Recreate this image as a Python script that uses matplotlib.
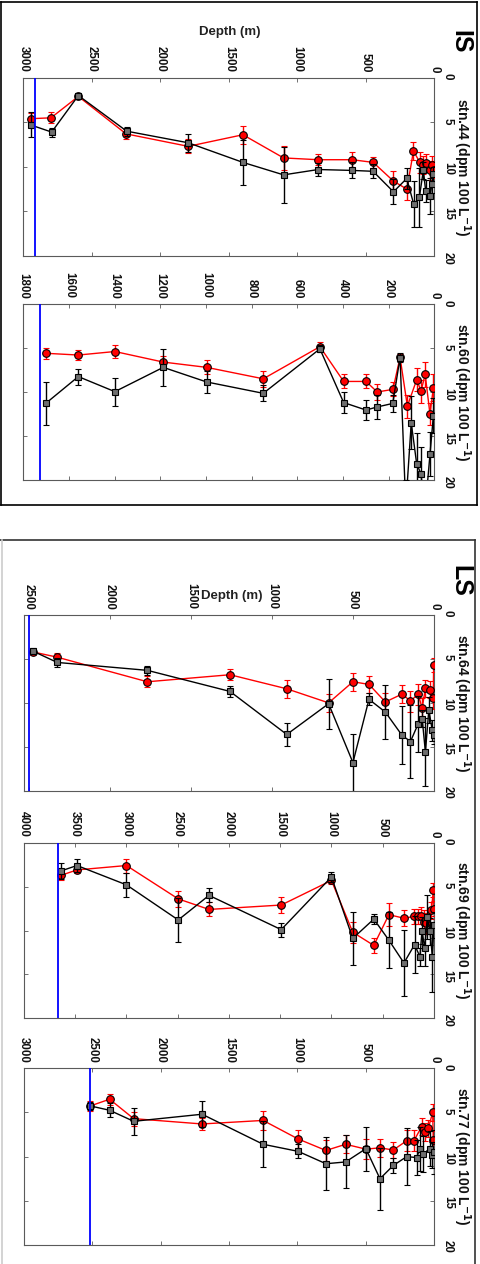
import numpy as np
import matplotlib
matplotlib.use("Agg")
from matplotlib import pyplot as plt
from matplotlib.lines import Line2D

plt.rcParams['font.family'] = ['Liberation Sans', 'DejaVu Sans']

# station 44 (IS)
st44_red_depth = [2946, 2798, 2598, 2250, 1796, 1397, 1100, 847, 599, 446, 298, 200, 152, 106, 80, 58, 32, 18, 4]
st44_red = [4.6, 4.5, 2.1, 6.3, 7.7, 6.4, 9.0, 9.2, 9.2, 9.5, 11.6, 12.5, 8.2, 9.5, 9.8, 9.6, 10.4, 9.8, 10.3]
st44_red_err = [0.6, 0.6, 0.3, 0.6, 0.8, 1.0, 1.3, 0.6, 0.9, 0.6, 1.1, 1.2, 1.0, 1.2, 1.0, 1.0, 1.1, 1.0, 1.0]
st44_gray_depth = [2946, 2793, 2598, 2245, 1796, 1397, 1100, 847, 599, 447, 298, 201, 150, 109, 80, 63, 31, 17, 7]
st44_gray = [5.3, 6.1, 2.0, 6.0, 7.3, 9.5, 10.9, 10.3, 10.4, 10.5, 12.8, 11.3, 14.2, 13.4, 10.4, 12.7, 13.3, 11.9, 10.8]
st44_gray_err = [1.4, 0.5, 0.3, 0.5, 1.0, 2.5, 3.1, 0.7, 0.9, 0.8, 1.4, 1.2, 2.6, 3.3, 1.0, 1.2, 2.0, 1.0, 0.8]

# station 60 (IS)
st60_red_depth = [1702, 1559, 1399, 1187, 997, 749, 501, 397, 299, 250, 181, 150, 118, 77, 58, 40, 19, 4]
st60_red = [5.6, 5.8, 5.4, 6.6, 7.2, 8.5, 4.85, 8.8, 8.8, 10.0, 9.7, 6.06, 11.6, 8.6, 9.9, 8.0, 12.5, 9.5]
st60_red_err = [0.6, 0.6, 0.7, 0.7, 0.8, 0.9, 0.5, 0.8, 0.8, 0.9, 0.8, 0.4, 1.3, 1.3, 1.3, 1.4, 1.3, 1.5]
st60_gray_depth = [1702, 1559, 1399, 1187, 997, 749, 501, 397, 299, 250, 182, 150, 125, 101, 77, 58, 42, 19, 4]
st60_gray = [11.3, 8.25, 9.96, 7.2, 8.86, 10.15, 5.1, 11.2, 12.05, 11.7, 11.3, 6.1, 23.0, 13.5, 18.2, 19.3, 24.0, 17.1, 12.7]
st60_gray_err = [2.4, 0.9, 1.6, 2.1, 1.2, 0.9, 0.4, 1.2, 1.1, 1.4, 1.0, 0.5, 3.0, 3.0, 3.5, 3.0, 3.0, 2.5, 2.0]

# station 64 (LS)
st64_red_depth = [2475, 2324, 1768, 1258, 908, 650, 500, 401, 300, 197, 145, 98, 73, 53, 26, 5, 2]
st64_red = [4.2, 4.8, 7.6, 6.8, 8.4, 10.0, 7.6, 7.9, 9.9, 9.0, 9.8, 9.0, 10.6, 8.35, 8.5, 9.5, 5.7]
st64_red_err = [0.3, 0.5, 0.6, 0.6, 1.0, 1.0, 1.0, 1.0, 1.0, 1.0, 1.2, 1.2, 1.2, 1.0, 1.0, 1.2, 0.8]
st64_gray_depth = [2475, 2324, 1768, 1258, 908, 650, 500, 401, 300, 197, 145, 98, 73, 53, 32, 11, 1]
st64_gray = [4.1, 5.4, 6.3, 8.7, 13.6, 10.1, 16.8, 9.6, 11.05, 13.7, 14.4, 12.4, 11.8, 15.6, 10.8, 13.1, 13.7]
st64_gray_err = [0.3, 0.5, 0.5, 0.6, 1.3, 2.85, 3.3, 0.7, 3.1, 3.3, 4.2, 3.2, 1.0, 3.9, 1.5, 1.2, 1.0]

# station 69 (LS)
st69_red_depth = [3634, 3481, 2999, 2494, 2194, 1490, 1000, 792, 587, 440, 293, 196, 156, 123, 98, 75, 25, 6, 1]
st69_red = [3.7, 3.1, 2.6, 6.4, 7.6, 7.1, 4.3, 10.2, 11.7, 8.2, 8.6, 8.4, 8.4, 8.3, 9.0, 9.2, 7.7, 5.4, 7.5]
st69_red_err = [0.5, 0.4, 0.8, 0.9, 0.8, 0.9, 0.4, 1.2, 0.9, 1.3, 0.9, 0.9, 0.9, 1.0, 1.3, 1.2, 1.0, 0.8, 0.9]
st69_gray_depth = [3634, 3481, 2999, 2494, 2194, 1490, 1000, 792, 587, 440, 293, 189, 137, 117, 91, 65, 39, 16, 1]
st69_gray = [3.2, 2.6, 4.8, 8.8, 6.0, 9.9, 3.9, 10.9, 8.7, 11.1, 13.7, 11.6, 13.0, 10.0, 12.0, 8.5, 10.1, 13.0, 9.4]
st69_gray_err = [0.9, 0.7, 1.4, 2.5, 0.8, 0.8, 0.6, 3.0, 0.6, 3.2, 3.8, 3.2, 1.0, 1.5, 2.0, 2.5, 1.5, 4.0, 1.5]

# station 77 (LS)
st77_red_depth = [2514, 2373, 2197, 1697, 1251, 995, 792, 648, 500, 397, 300, 202, 149, 92, 68, 44, 12, 7]
st77_red = [4.26, 3.5, 5.7, 6.3, 5.9, 8.0, 9.3, 8.6, 9.15, 9.0, 9.25, 8.2, 8.2, 6.6, 7.2, 6.8, 5.0, 8.1]
st77_red_err = [0.6, 0.6, 0.8, 0.7, 1.1, 1.0, 1.2, 1.0, 1.1, 1.0, 0.9, 1.2, 1.2, 1.0, 1.0, 1.0, 1.0, 1.0]
st77_gray_depth = [2514, 2373, 2197, 1697, 1251, 995, 792, 648, 500, 397, 300, 202, 129, 105, 80, 35, 15, 1]
st77_gray = [4.26, 4.75, 6.0, 5.2, 8.6, 9.4, 10.8, 10.6, 9.1, 12.5, 11.0, 10.0, 10.1, 9.1, 9.7, 9.1, 9.8, 9.5]
st77_gray_err = [0.5, 0.8, 1.5, 1.5, 2.6, 0.8, 3.0, 3.0, 2.5, 3.5, 0.8, 3.2, 2.0, 2.5, 2.0, 2.0, 1.5, 2.5]

station_names = ['stn.44', 'stn.60', 'stn.64', 'stn.69', 'stn.77']
max_depths = [3000, 1800, 2530, 4000, 3000]
tick_steps = [500, 200, 500, 500, 500]
bottom_depths = [2915, 1727, 2500, 3667, 2514]

W, H = 480, 1264
fig = plt.figure(figsize=(W / 100, H / 100), dpi=100)

# axes boxes in pixels: (left, top, right, bottom)
boxes = [(23.3, 77.7, 434.3, 256),
         (23.3, 304, 434.3, 480),
         (23.8, 615, 434.0, 790.7),
         (23.8, 842.7, 434.0, 1018.3),
         (23.8, 1068.3, 434.3, 1245)]

series = [
    (st44_red_depth, st44_red, st44_red_err, st44_gray_depth, st44_gray, st44_gray_err),
    (st60_red_depth, st60_red, st60_red_err, st60_gray_depth, st60_gray, st60_gray_err),
    (st64_red_depth, st64_red, st64_red_err, st64_gray_depth, st64_gray, st64_gray_err),
    (st69_red_depth, st69_red, st69_red_err, st69_gray_depth, st69_gray, st69_gray_err),
    (st77_red_depth, st77_red, st77_red_err, st77_gray_depth, st77_gray, st77_gray_err),
]

spine_col = '#5a5a5a'

for i in range(5):
    l, t, r, b = boxes[i]
    ax = fig.add_axes([l / W, 1 - b / H, (r - l) / W, (b - t) / H])
    rd, rv, re, gd, gv, ge = series[i]

    ax.errorbar(rd, rv, yerr=re, fmt='-o', color='red', ecolor='red', lw=1,
                elinewidth=1, capsize=2.5, capthick=1, ms=5.5, mfc='red',
                mec='black', mew=0.8, zorder=3)
    ax.errorbar(gd, gv, yerr=ge, fmt='-s', color='black', ecolor='black', lw=1,
                elinewidth=1, capsize=2.5, capthick=1, ms=5, mfc='#6e6e6e',
                mec='black', mew=0.8, zorder=4)
    ax.axvline(bottom_depths[i], color='#0000ff', lw=1.3, zorder=5)

    ax.set_xlim(max_depths[i], 0)
    ax.set_ylim(20, 0)
    ax.set_xticks(np.arange(0, max_depths[i] + 1, tick_steps[i]))
    ax.set_yticks([0, 5, 10, 15, 20])
    ax.xaxis.set_ticks_position('both')
    ax.yaxis.set_ticks_position('both')
    ax.tick_params(axis='x', labeltop=True, labelbottom=False, direction='in',
                   length=3, width=0.6, color=spine_col, pad=4, labelsize=8.3,
                   labelrotation=270)
    ax.tick_params(axis='y', labelright=True, labelleft=False, direction='in',
                   length=3, width=0.6, color=spine_col, pad=5.5, labelsize=8.3,
                   labelrotation=270)
    for lab in ax.get_xticklabels() + ax.get_yticklabels():
        lab.set_fontweight('bold')
        lab.set_color('#111111')
    for s in ax.spines.values():
        s.set_color(spine_col)
        s.set_linewidth(0.8)

    ax.text(1.068, 0.5, station_names[i] + ' (dpm 100 L$^{\\mathbf{-1}}$)',
            transform=ax.transAxes, rotation=270, ha='center', va='center',
            fontsize=10, fontweight='bold', color='#111111')

# region labels
fig.text(460 / W, 1 - 42 / H, 'IS', rotation=270, ha='center', va='center',
         fontsize=18, fontweight='bold')
fig.text(460 / W, 1 - 581 / H, 'LS', rotation=270, ha='center', va='center',
         fontsize=18, fontweight='bold')
fig.text(230 / W, 1 - 32.5 / H, 'Depth (m)', ha='center', va='center',
         fontsize=9.5, fontweight='bold', color='#222222')
fig.text(232 / W, 1 - 596 / H, 'Depth (m)', ha='center', va='center',
         fontsize=9.5, fontweight='bold', color='#222222')

# outer frames
def fline(x0, y0, x1, y1, col, lw):
    fig.add_artist(Line2D([x0 / W, x1 / W], [1 - y0 / H, 1 - y1 / H],
                          color=col, lw=lw, transform=fig.transFigure))

fline(0.5, 2, 477, 2, 'black', 1.2)
fline(477, 2, 477, 505, 'black', 1.2)
fline(0.5, 505, 477, 505, 'black', 1.2)
fline(0.5, 2, 0.5, 505, 'black', 1.2)

fline(0, 540, 475, 540, '#333333', 1.2)
fline(475, 540, 475, 1264, '#333333', 1.2)
fline(1.5, 540, 1.5, 1264, '#cccccc', 1.2)

fig.savefig('out.png', dpi=100)
